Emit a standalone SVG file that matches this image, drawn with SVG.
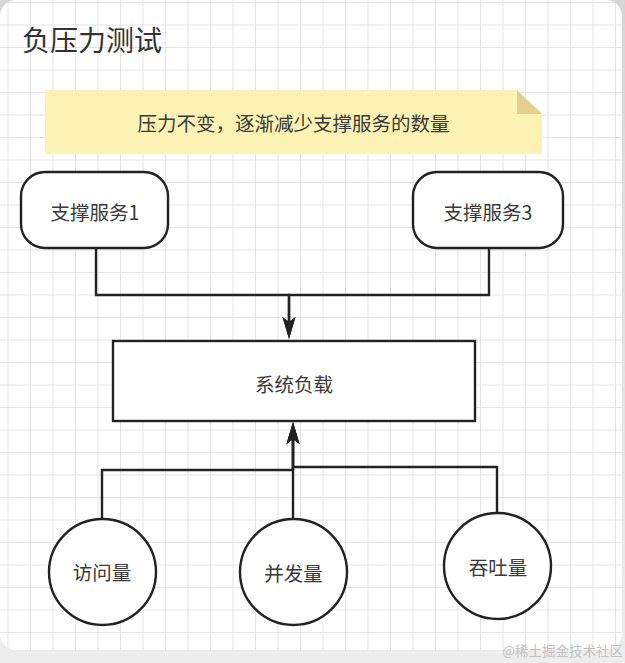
<svg xmlns="http://www.w3.org/2000/svg" width="625" height="663" viewBox="0 0 625 663">
  <style>
    .t { font-family: "Noto Sans CJK SC", "Noto Sans", sans-serif; fill: #3a3a3a; text-anchor: middle; font-size: 19.5px; }
    .shape { fill: #ffffff; stroke: #222222; stroke-width: 2.4; }
    .edge { fill: none; stroke: #222222; stroke-width: 2.4; marker-end: url(#arrow); }
  </style>
  <defs>
    <pattern id="grid" patternUnits="userSpaceOnUse" x="7.5" y="2" width="22.5" height="22.5">
      <path d="M0,0.5 H22.5 M0.5,0 V22.5" fill="none" stroke="#e4e4e4" stroke-width="1"/>
    </pattern>
    <marker id="arrow" markerUnits="userSpaceOnUse" viewBox="0 0 22 14" refX="16" refY="7" markerWidth="22" markerHeight="14" orient="auto">
      <path d="M0,0.5 L22,7 L0,13.5 L5,7 Z" fill="#222222"/>
    </marker>
    <linearGradient id="band" x1="0" y1="0" x2="0" y2="1">
      <stop offset="0" stop-color="#d6d6d6"/>
      <stop offset="1" stop-color="#ededed"/>
    </linearGradient>
  </defs>

  <!-- background and card -->
  <rect x="0" y="0" width="625" height="663" fill="url(#band)"/>
  <rect x="0" y="0" width="622" height="650" rx="16" fill="#ffffff"/>
  <rect x="0" y="0" width="622" height="650" rx="16" fill="url(#grid)"/>
  <text x="623" y="656" font-family="Noto Sans CJK SC, sans-serif" font-size="13.5" fill="#c2c2c2" text-anchor="end">@稀土掘金技术社区</text>

  <!-- title -->
  <g id="title">
    <text x="22" y="51" font-family="Noto Sans CJK SC, sans-serif" font-size="28" fill="#333333">负压力测试</text>
  </g>

  <!-- note -->
  <g id="note">
    <path d="M45,90 H517 L542,114 V154 H45 Z" fill="#fcf2b3"/>
    <path d="M517,90 L542,114 H517 Z" fill="#e4cf8c"/>
    <text class="t" x="293.5" y="131">压力不变，逐渐减少支撑服务的数量</text>
  </g>

  <!-- connectors -->
  <g id="connectors">
    <path class="edge" d="M96,248 V295 H289 V333"/>
    <path class="edge" d="M489,248 V295 H289 V333"/>
    <path class="edge" d="M102,519 V470 H293 V428"/>
    <path class="edge" d="M293,519 V428"/>
    <path class="edge" d="M497,513 V467 H293 V428"/>
  </g>

  <!-- nodes -->
  <g id="svc1">
    <rect class="shape" x="21" y="172" width="147" height="76" rx="24"/>
    <text class="t" x="95" y="220">支撑服务1</text>
  </g>
  <g id="svc3">
    <rect class="shape" x="413" y="172" width="150" height="76" rx="24"/>
    <text class="t" x="488" y="220">支撑服务3</text>
  </g>
  <g id="load">
    <rect class="shape" x="113" y="341" width="362" height="80"/>
    <text class="t" x="294" y="392">系统负载</text>
  </g>
  <g id="visits">
    <ellipse class="shape" cx="102.5" cy="572" rx="53.5" ry="53"/>
    <text class="t" x="102" y="580">访问量</text>
  </g>
  <g id="concurrency">
    <ellipse class="shape" cx="293.5" cy="572" rx="53.5" ry="53"/>
    <text class="t" x="293.5" y="581">并发量</text>
  </g>
  <g id="throughput">
    <ellipse class="shape" cx="497.5" cy="566" rx="53.5" ry="53"/>
    <text class="t" x="498" y="575">吞吐量</text>
  </g>
</svg>
